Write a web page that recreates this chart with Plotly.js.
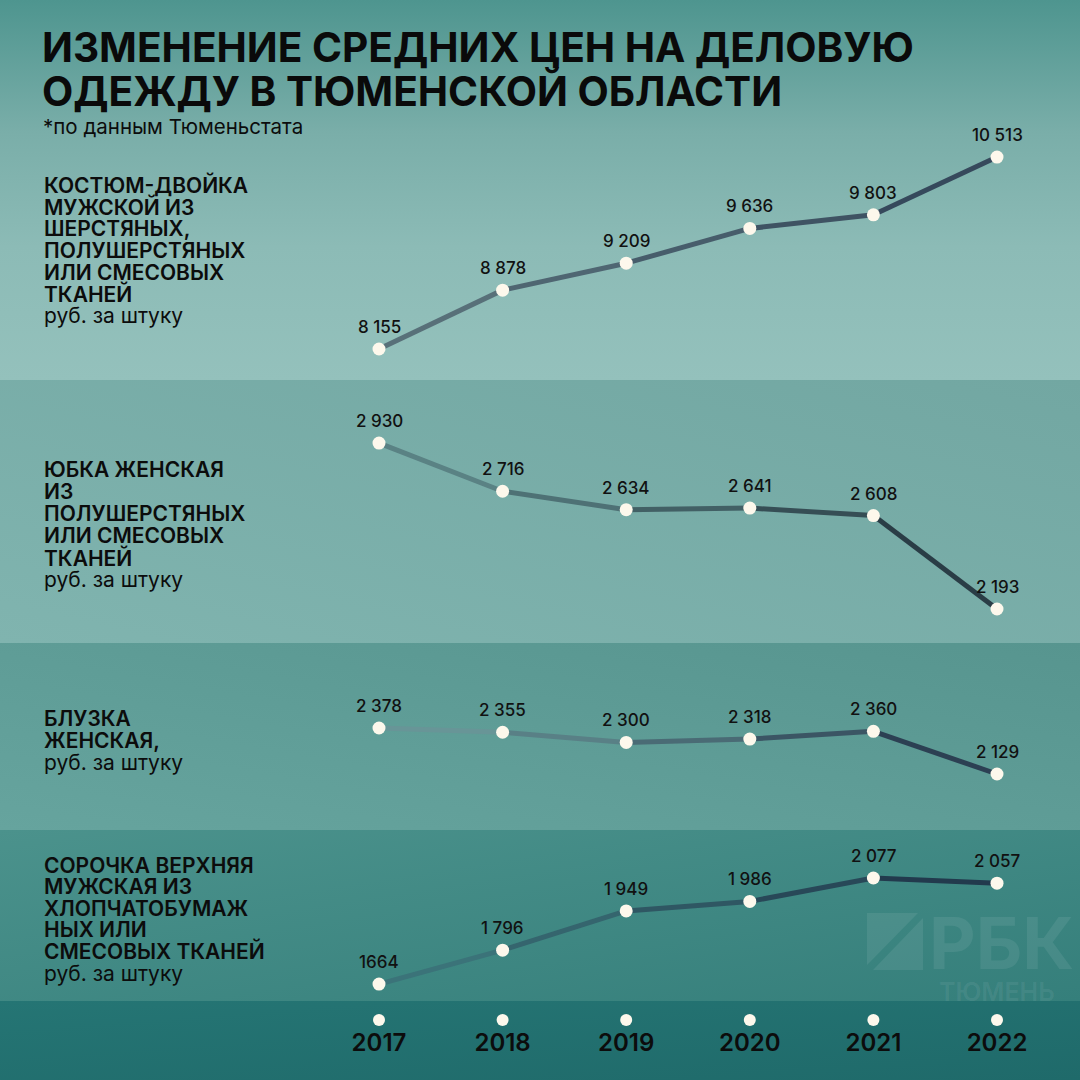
<!DOCTYPE html>
<html><head><meta charset="utf-8">
<script src="https://cdn.plot.ly/plotly-3.0.1.min.js"></script>
<style>html,body{margin:0;padding:0;background:#4e948e}#chart{width:1080px;height:1080px}</style>
</head><body><div id="chart"></div>
<script>
// ---------- DATA ----------
const years = [2017, 2018, 2019, 2020, 2021, 2022];
const yearLabels = ['2017', '2018', '2019', '2020', '2021', '2022'];

const suitValues   = [8155, 8878, 9209, 9636, 9803, 10513];
const skirtValues  = [2930, 2716, 2634, 2641, 2608, 2193];
const blouseValues = [2378, 2355, 2300, 2318, 2360, 2129];
const shirtValues  = [1664, 1796, 1949, 1986, 2077, 2057];

const suitLabels   = ['8 155', '8 878', '9 209', '9 636', '9 803', '10 513'];
const skirtLabels  = ['2 930', '2 716', '2 634', '2 641', '2 608', '2 193'];
const blouseLabels = ['2 378', '2 355', '2 300', '2 318', '2 360', '2 129'];
const shirtLabels  = ['1664', '1 796', '1 949', '1 986', '2 077', '2 057'];

const suitTitle   = ['КОСТЮМ-ДВОЙКА', 'МУЖСКОЙ ИЗ', 'ШЕРСТЯНЫХ,', 'ПОЛУШЕРСТЯНЫХ', 'ИЛИ СМЕСОВЫХ', 'ТКАНЕЙ'];
const skirtTitle  = ['ЮБКА ЖЕНСКАЯ', 'ИЗ', 'ПОЛУШЕРСТЯНЫХ', 'ИЛИ СМЕСОВЫХ', 'ТКАНЕЙ'];
const blouseTitle = ['БЛУЗКА', 'ЖЕНСКАЯ,'];
const shirtTitle  = ['СОРОЧКА ВЕРХНЯЯ', 'МУЖСКАЯ ИЗ', 'ХЛОПЧАТОБУМАЖ', 'НЫХ ИЛИ', 'СМЕСОВЫХ ТКАНЕЙ'];
const unitLabel = 'руб. за штуку';

const chartTitle = ['ИЗМЕНЕНИЕ СРЕДНИХ ЦЕН НА ДЕЛОВУЮ', 'ОДЕЖДУ В ТЮМЕНСКОЙ ОБЛАСТИ'];
const sourceNote = '*по данным Тюменьстата';
const brandName = 'РБК';
const brandCity = 'ТЮМЕНЬ';

// ---------- LAYOUT HELPERS ----------
const W = 1080, H = 1080;
const py = p => 1 - p / H;
const px = p => p / W;
const FONT = 'Inter, "Noto Sans", sans-serif';

const panels = [
  {values: suitValues,   labels: suitLabels,   title: suitTitle,   ax: 'y',  top: 120, bottom: 380, range: [7774, 10968], c0: [92,117,125], c1: [50,68,88],  t0: 185, step: 21.8},
  {values: skirtValues,  labels: skirtLabels,  title: skirtTitle,  ax: 'y2', top: 380, bottom: 643, range: [2042, 3210],  c0: [96,139,140], c1: [36,52,62],  t0: 470, step: 21.9},
  {values: blouseValues, labels: blouseLabels, title: blouseTitle, ax: 'y3', top: 643, bottom: 830, range: [1826, 2838],  c0: [112,160,160], c1: [36,53,74], t0: 718, step: 22},
  {values: shirtValues,  labels: shirtLabels,  title: shirtTitle,  ax: 'y4', top: 830, bottom: 1000, range: [1602, 2264], c0: [62,122,126], c1: [31,51,71],  t0: 865, step: 21.6}
];

const mix = (a, b, t) => 'rgb(' + a.map((v, i) => Math.round(v + (b[i] - v) * t)).join(',') + ')';

const traces = [];
const annotations = [];
const layout = {
  width: W, height: H,
  margin: {l: 0, r: 0, t: 0, b: 0},
  paper_bgcolor: 'rgba(0,0,0,0)',
  plot_bgcolor: 'rgba(0,0,0,0)',
  showlegend: false,
  hovermode: false,
  xaxis: {range: [2017 - 379 / 123.6, 2022 + 83 / 123.6], domain: [0, 1], showgrid: false, zeroline: false,
          showticklabels: false, ticks: '', showline: false, anchor: 'y5', fixedrange: true},
  annotations: annotations,
  shapes: [],
  images: []
};

panels.forEach((p, k) => {
  const axName = k === 0 ? 'yaxis' : 'yaxis' + (k + 1);
  layout[axName] = {domain: [py(p.bottom), py(p.top)], range: p.range, showgrid: false, zeroline: false,
                    showticklabels: false, ticks: '', showline: false, anchor: 'x', fixedrange: true};
  for (let i = 0; i < years.length - 1; i++) {
    traces.push({type: 'scatter', mode: 'lines', x: [years[i], years[i + 1]], y: [p.values[i], p.values[i + 1]],
                 xaxis: 'x', yaxis: p.ax, line: {color: mix(p.c0, p.c1, (i + 0.5) / (years.length - 1)), width: 5},
                 hoverinfo: 'skip'});
  }
  traces.push({type: 'scatter', mode: 'markers', x: years, y: p.values, xaxis: 'x', yaxis: p.ax,
               marker: {size: 13, color: '#fdf8ec', line: {width: 0}}, hoverinfo: 'skip'});
  p.labels.forEach((lab, i) => {
    annotations.push({x: years[i], y: p.values[i], xref: 'x', yref: p.ax, text: lab, showarrow: false,
                      yshift: 22, xanchor: 'center', yanchor: 'middle',
                      font: {family: FONT, size: 17, color: '#111111', weight: 500}});
  });
  p.title.forEach((line, i) => {
    annotations.push({x: px(42), y: py(p.t0 + i * p.step), xref: 'paper', yref: 'paper', text: line,
                      showarrow: false, xanchor: 'left', yanchor: 'middle',
                      font: {family: FONT, size: 21, color: '#0c0c0c', weight: 600}});
  });
  annotations.push({x: px(42), y: py(p.t0 + p.title.length * p.step), xref: 'paper', yref: 'paper', text: unitLabel,
                    showarrow: false, xanchor: 'left', yanchor: 'middle',
                    font: {family: FONT, size: 21, color: '#0c0c0c', weight: 400}});
});

// bottom year row
layout.yaxis5 = {domain: [0, py(1000)], range: [0, 80], showgrid: false, zeroline: false, showticklabels: false,
                 ticks: '', showline: false, anchor: 'x', fixedrange: true};
traces.push({type: 'scatter', mode: 'markers', x: years, y: years.map(() => 60), xaxis: 'x', yaxis: 'y5',
             marker: {size: 12, color: '#fdf8ec'}, hoverinfo: 'skip'});
traces.push({type: 'scatter', mode: 'text', x: years, y: years.map(() => 35), text: yearLabels, xaxis: 'x', yaxis: 'y5',
             textposition: 'middle center', textfont: {family: FONT, size: 24, color: '#0c0c0c', weight: 600},
             hoverinfo: 'skip'});

// title + note
chartTitle.forEach((line, i) => {
  annotations.push({x: px(40), y: py(48 + i * 43), xref: 'paper', yref: 'paper', text: line, showarrow: false,
                    xanchor: 'left', yanchor: 'middle', font: {family: FONT, size: 40.6, color: '#0a0a0a', weight: 700}});
});
annotations.push({x: px(41), y: py(126), xref: 'paper', yref: 'paper', text: sourceNote, showarrow: false,
                  xanchor: 'left', yanchor: 'middle', font: {family: FONT, size: 20.5, color: '#0c0c0c', weight: 400}});

// watermark
const wm = 'rgba(255,255,255,0.08)';
annotations.push({x: px(1076), y: py(942), xref: 'paper', yref: 'paper', text: brandName, showarrow: false,
                  xanchor: 'right', yanchor: 'middle', font: {family: FONT, size: 72, color: wm, weight: 700}});
annotations.push({x: px(937), y: py(992), xref: 'paper', yref: 'paper', text: brandCity, showarrow: false,
                  xanchor: 'left', yanchor: 'middle', font: {family: FONT, size: 25, color: wm, weight: 600}});
const pathOf = pts => 'M ' + pts.map(q => px(q[0]) + ',' + py(q[1])).join(' L ') + ' Z';
layout.shapes.push({type: 'path', xref: 'paper', yref: 'paper', path: pathOf([[867,913],[918,913],[867,965]]),
                    fillcolor: wm, line: {width: 0}, layer: 'below'});
layout.shapes.push({type: 'path', xref: 'paper', yref: 'paper', path: pathOf([[873,970],[923,918],[923,970]]),
                    fillcolor: wm, line: {width: 0}, layer: 'below'});

// background bands as an SVG image
const svg = `<svg xmlns='http://www.w3.org/2000/svg' width='1080' height='1080' viewBox='0 0 1080 1080'>
<defs>
<linearGradient id='g1' x1='0' y1='0' x2='0' y2='1'>
<stop offset='0' stop-color='#4e958f'/><stop offset='0.35' stop-color='#7aaea9'/><stop offset='0.65' stop-color='#8cbbb6'/><stop offset='1' stop-color='#94c1bc'/></linearGradient>
<linearGradient id='g2' x1='0' y1='1' x2='1' y2='0'>
<stop offset='0' stop-color='#80b4af'/><stop offset='1' stop-color='#72a7a2'/></linearGradient>
<linearGradient id='g3' x1='0' y1='1' x2='1' y2='0'>
<stop offset='0' stop-color='#66a49e'/><stop offset='1' stop-color='#57958f'/></linearGradient>
<linearGradient id='g4' x1='0' y1='0' x2='1' y2='1'>
<stop offset='0' stop-color='#4b928c'/><stop offset='1' stop-color='#357f7b'/></linearGradient>
<linearGradient id='g5' x1='0' y1='0' x2='1' y2='1'>
<stop offset='0' stop-color='#257574'/><stop offset='1' stop-color='#1f6a6a'/></linearGradient>
</defs>
<rect x='0' y='0' width='1080' height='380' fill='url(#g1)'/>
<rect x='0' y='380' width='1080' height='263' fill='url(#g2)'/>
<rect x='0' y='643' width='1080' height='187' fill='url(#g3)'/>
<rect x='0' y='830' width='1080' height='171' fill='url(#g4)'/>
<rect x='0' y='1001' width='1080' height='79' fill='url(#g5)'/>
</svg>`;
layout.images.push({source: 'data:image/svg+xml;charset=utf-8,' + encodeURIComponent(svg), xref: 'paper', yref: 'paper',
                    x: 0, y: 1, sizex: 1, sizey: 1, sizing: 'stretch', xanchor: 'left', yanchor: 'top', layer: 'below'});

Plotly.newPlot('chart', traces, layout, {displayModeBar: false, staticPlot: true});
</script>
</body></html>
